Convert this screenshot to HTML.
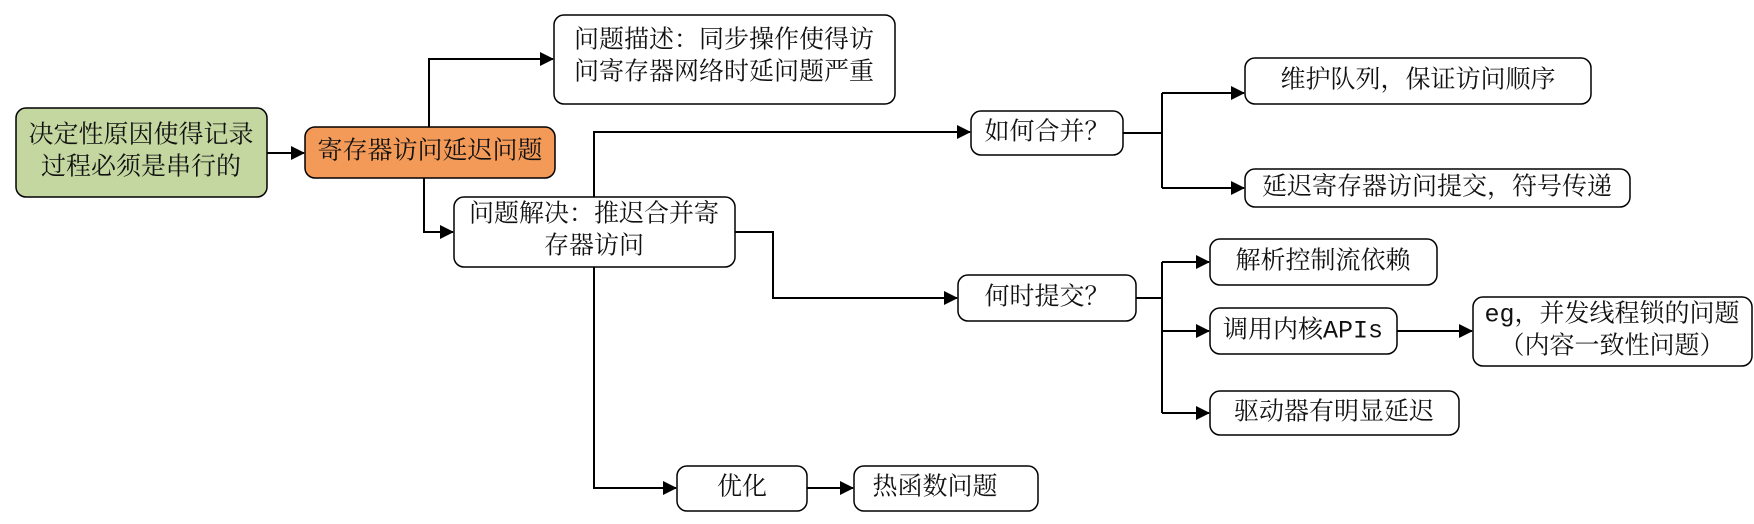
<!DOCTYPE html>
<html><head><meta charset="utf-8"><style>
html,body{margin:0;padding:0;background:#fff;}
svg text{font-family:"Liberation Mono","Noto Serif CJK SC","Noto Sans CJK SC",monospace;font-size:25px;fill:#111;dominant-baseline:central;text-anchor:middle;}
</style></head><body>
<svg width="1754" height="519" viewBox="0 0 1754 519" xmlns="http://www.w3.org/2000/svg">
<defs><marker id="a" markerWidth="14" markerHeight="14" refX="13" refY="7" orient="auto" markerUnits="userSpaceOnUse"><path d="M0,0 L14,7 L0,14 z" fill="#000"/></marker></defs>
<g fill="none" stroke="#000" stroke-width="2">
<path d="M267,153 H304" marker-end="url(#a)"/>
<path d="M429,127 V59 H553" marker-end="url(#a)"/>
<path d="M424,178 V232 H453" marker-end="url(#a)"/>
<path d="M594,197 V132 H970" marker-end="url(#a)"/>
<path d="M735,232 H773 V298 H957" marker-end="url(#a)"/>
<path d="M594,267 V488 H676" marker-end="url(#a)"/>
<path d="M807,488 H853" marker-end="url(#a)"/>
<path d="M1123,133 H1162"/>
<path d="M1162,93 V188"/>
<path d="M1162,93 H1244" marker-end="url(#a)"/>
<path d="M1162,188 H1244" marker-end="url(#a)"/>
<path d="M1136,298 H1162"/>
<path d="M1162,262 V413"/>
<path d="M1162,262 H1209" marker-end="url(#a)"/>
<path d="M1162,331 H1209" marker-end="url(#a)"/>
<path d="M1162,413 H1209" marker-end="url(#a)"/>
<path d="M1397,331 H1472" marker-end="url(#a)"/>
</g>
<g stroke="#000" stroke-width="1.5">
<rect x="16" y="108" width="251" height="89" rx="10" fill="#c4d7a0"/>
<rect x="305" y="127" width="250" height="51" rx="10" fill="#f49a58"/>
<rect x="554" y="15" width="341" height="89" rx="10" fill="#fff"/>
<rect x="454" y="197" width="281" height="70" rx="10" fill="#fff"/>
<rect x="677" y="466" width="130" height="45" rx="10" fill="#fff"/>
<rect x="854" y="466" width="184" height="45" rx="10" fill="#fff"/>
<rect x="971" y="111" width="152" height="44" rx="10" fill="#fff"/>
<rect x="1245" y="58" width="346" height="46" rx="10" fill="#fff"/>
<rect x="1245" y="169" width="385" height="38" rx="10" fill="#fff"/>
<rect x="958" y="275" width="178" height="46" rx="10" fill="#fff"/>
<rect x="1210" y="239" width="227" height="46" rx="10" fill="#fff"/>
<rect x="1210" y="308" width="187" height="46" rx="10" fill="#fff"/>
<rect x="1473" y="297" width="279" height="69" rx="10" fill="#fff"/>
<rect x="1210" y="391" width="249" height="44" rx="10" fill="#fff"/>
</g>
<text x="141" y="136">决定性原因使得记录</text>
<text x="141" y="168">过程必须是串行的</text>
<text x="430" y="152">寄存器访问延迟问题</text>
<text x="724" y="41">问题描述：同步操作使得访</text>
<text x="724" y="73">问寄存器网络时延问题严重</text>
<text x="594" y="215">问题解决：推迟合并寄</text>
<text x="594" y="247">存器访问</text>
<text x="742" y="488">优化</text>
<text x="935" y="488">热函数问题</text>
<text x="1047" y="133">如何合并？</text>
<text x="1418" y="81">维护队列，保证访问顺序</text>
<text x="1437" y="188">延迟寄存器访问提交，符号传递</text>
<text x="1047" y="298">何时提交？</text>
<text x="1323" y="262">解析控制流依赖</text>
<text x="1303" y="331">调用内核APIs</text>
<text x="1612" y="315">eg，并发线程锁的问题</text>
<text x="1612" y="347">（内容一致性问题）</text>
<text x="1334" y="413">驱动器有明显延迟</text>
</svg>
</body></html>
